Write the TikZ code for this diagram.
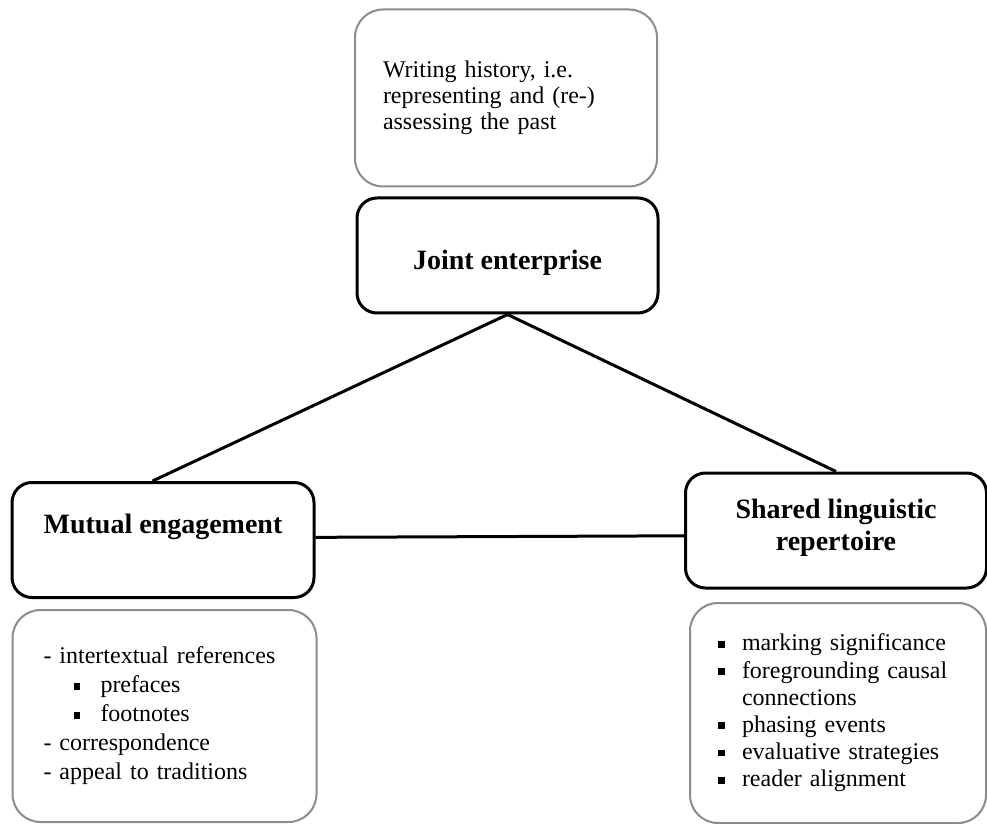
\documentclass[tikz,border=0pt]{standalone}
\usepackage{fontspec}
\setmainfont{Liberation Serif}
\usepackage{tikz}
\usetikzlibrary{positioning}

\newcommand{\sqbul}{\makebox[12pt][l]{\raisebox{1.6pt}{\rule{3.4pt}{3.4pt}}}}

\begin{document}
\begin{tikzpicture}[x=0.5pt, y=-0.5pt,
    title/.style={draw, line width=1.5pt, rounded corners=10pt, minimum width=150.5pt, minimum height=57.5pt, align=center, font=\fontsize{14}{16}\selectfont\bfseries},
    note/.style={draw=black!45, line width=1pt, rounded corners=14pt, align=left, inner sep=0pt, font=\fontsize{12}{13.5}\selectfont},
    link/.style={line width=1.5pt}
]
    \useasboundingbox (0,0) rectangle (987,824);
    % top note and the three corners
    \node[note, minimum width=151pt, minimum height=88.5pt, text width=123pt, font=\fontsize{12}{13}\selectfont] at (506,98) (past) {Writing history, i.e.\\ representing and (re-)\\ assessing the past};
    \node[title, text height=16.5pt] at (507.5,255.5) (joint) {Joint enterprise};
    \node[title, minimum width=151pt] at (163,540) (mutual) {Mutual engagement\\~};
    \node[title] at (836,530.5) (shared) {Shared linguistic\\ repertoire\\[-10pt]~};
    % notes under the corners
    \node[note, minimum width=152pt, minimum height=106pt, text width=121pt, font=\fontsize{12}{14.5}\selectfont] at (164.5,716) (engage) {- intertextual references\\
        \hspace*{15pt}\makebox[13.5pt][l]{\raisebox{1.6pt}{\rule{3.4pt}{3.4pt}}}prefaces\\
        \hspace*{15pt}\makebox[13.5pt][l]{\raisebox{1.6pt}{\rule{3.4pt}{3.4pt}}}footnotes\\
        - correspondence\\
        - appeal to traditions};
    \node[note, minimum width=148pt, minimum height=110pt, text width=120pt, font=\fontsize{12}{13.6}\selectfont] at (838,713) (repert) {\sqbul marking significance\\
        \sqbul foregrounding causal\\
        \hspace*{12pt}connections\\
        \sqbul phasing events\\
        \sqbul evaluative strategies\\
        \sqbul reader alignment};
    % triangle
    \draw[link] (joint.south) -- (mutual.100);
    \draw[link] (joint.south) -- (shared.north);
    \draw[link] (mutual.1) -- (shared.182);
\end{tikzpicture}
\end{document}
